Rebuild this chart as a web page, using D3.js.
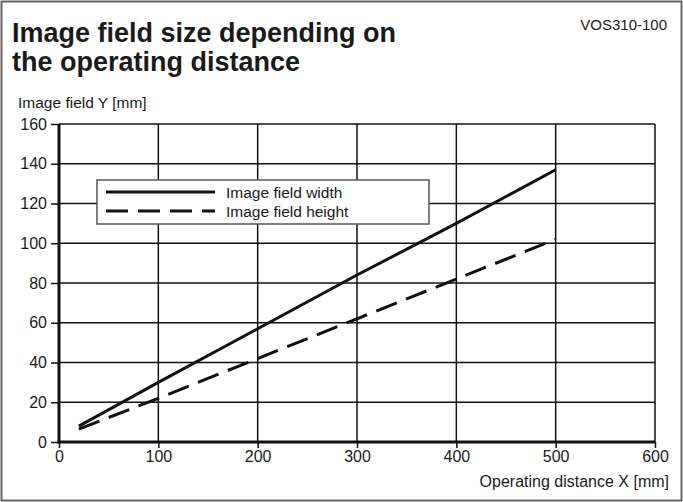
<!DOCTYPE html>
<html><head><meta charset="utf-8">
<script src="https://cdn.jsdelivr.net/npm/d3@7"></script>
<style>body{margin:0;background:#fff}svg{display:block;font-family:"Liberation Sans",Arial,sans-serif}</style>
</head><body><svg id="c" width="683" height="502"></svg>
<script>
const distances = [20, 100, 200, 300, 400, 500];
const widthValues = [8, 30, 57, 84, 110, 137];
const heightValues = [6.5, 22, 42, 62, 82, 102];
const xTicks = [0, 100, 200, 300, 400, 500, 600];
const yTicks = [0, 20, 40, 60, 80, 100, 120, 140, 160];
const seriesNames = ["Image field width", "Image field height"];
const titleLines = ["Image field size depending on", "the operating distance"];

const svg = d3.select("#c");
const L = 59, R = 655, T = 124, B = 442;
const x = d3.scaleLinear().domain([0, 600]).range([L, R]);
const y = d3.scaleLinear().domain([0, 160]).range([B, T]);

svg.append("rect").attr("x", 1.5).attr("y", 1.5).attr("width", 680).attr("height", 499)
  .attr("fill", "none").attr("stroke", "#666").attr("stroke-width", 2);

svg.selectAll("text.title").data(titleLines).join("text").attr("class", "title")
  .attr("x", 12).attr("y", (d, i) => 42 + i * 29).attr("font-size", 27).attr("font-weight", "bold")
  .attr("fill", "#1a1a1a").text(d => d);
svg.append("text").attr("x", 667).attr("y", 30).attr("text-anchor", "end").attr("font-size", 15)
  .attr("fill", "#222").text("VOS310-100");

// grid
const g = svg.append("g");
g.selectAll("line.v").data(xTicks.slice(1)).join("line").attr("class", "v")
  .attr("x1", d => x(d)).attr("x2", d => x(d)).attr("y1", T).attr("y2", B)
  .attr("stroke", "#111").attr("stroke-width", 1.5);
g.selectAll("line.h").data(yTicks.slice(1)).join("line").attr("class", "h")
  .attr("x1", L).attr("x2", R).attr("y1", d => y(d)).attr("y2", d => y(d))
  .attr("stroke", "#111").attr("stroke-width", 1.5);

// axes
const xAxis = svg.append("g").attr("transform", `translate(0,${B})`)
  .call(d3.axisBottom(x).tickValues(xTicks).tickSize(6).tickPadding(3).tickFormat(d3.format("d")));
const yAxis = svg.append("g").attr("transform", `translate(${L},0)`)
  .call(d3.axisLeft(y).tickValues(yTicks).tickSize(8).tickPadding(4).tickFormat(d3.format("d")));
[xAxis, yAxis].forEach(a => {
  a.select(".domain").remove();
  a.selectAll(".tick line").attr("stroke", "#111").attr("stroke-width", 1.5);
  a.selectAll(".tick text").attr("font-size", 16).attr("fill", "#1a1a1a").attr("font-family", "Liberation Sans, Arial, sans-serif");
});
svg.append("line").attr("x1", L).attr("x2", L).attr("y1", T).attr("y2", B + 1.5)
  .attr("stroke", "#111").attr("stroke-width", 3);
svg.append("line").attr("x1", L - 1.5).attr("x2", R).attr("y1", B).attr("y2", B)
  .attr("stroke", "#111").attr("stroke-width", 3);

svg.append("text").attr("x", 18).attr("y", 108).attr("font-size", 15.5).attr("fill", "#1a1a1a").text("Image field Y [mm]");
svg.append("text").attr("x", 669).attr("y", 487).attr("text-anchor", "end").attr("font-size", 16).attr("fill", "#1a1a1a").text("Operating distance X [mm]");

// lines
const line = d3.line().x(d => x(d[0])).y(d => y(d[1]));
const series = [widthValues, heightValues];
const dashes = [null, "22,10"];
series.forEach((vals, i) => {
  svg.append("path").datum(distances.map((d, j) => [d, vals[j]]))
    .attr("d", line).attr("fill", "none").attr("stroke", "#111").attr("stroke-width", 3)
    .attr("stroke-dasharray", dashes[i]);
});

// legend
svg.append("rect").attr("x", 97).attr("y", 180).attr("width", 332).attr("height", 44)
  .attr("fill", "#fff").attr("stroke", "#555").attr("stroke-width", 1.5);
seriesNames.forEach((n, i) => {
  const ly = 192 + i * 19;
  svg.append("line").attr("x1", 106).attr("x2", 215).attr("y1", ly).attr("y2", ly)
    .attr("stroke", "#111").attr("stroke-width", 3).attr("stroke-dasharray", dashes[i]);
  svg.append("text").attr("x", 226).attr("y", ly + 5.5).attr("font-size", 15.5).attr("fill", "#1a1a1a").text(n);
});
</script></body></html>
